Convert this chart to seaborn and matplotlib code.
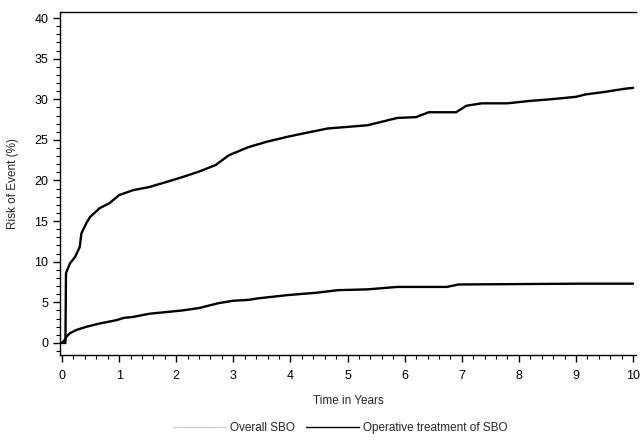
import matplotlib.pyplot as plt
import matplotlib.ticker as mticker
from matplotlib.lines import Line2D
import pandas as pd
import seaborn as sns

# cumulative risk curves
overall_years = [0.0, 0.06, 0.07, 0.14, 0.23, 0.31, 0.34, 0.43, 0.49, 0.66, 0.83, 1.0,
                 1.24, 1.53, 1.82, 2.1, 2.4, 2.69, 2.92, 3.26, 3.6, 3.96, 4.3, 4.65,
                 5.0, 5.35, 5.87, 6.2, 6.42, 6.9, 7.08, 7.35, 7.8, 8.2, 8.56, 9.0,
                 9.17, 9.5, 9.86, 10.0]
overall_risk = [0.0, 0.0, 8.6, 9.8, 10.6, 11.8, 13.5, 14.8, 15.5, 16.6, 17.2, 18.2,
                18.8, 19.2, 19.8, 20.4, 21.1, 21.9, 23.1, 24.1, 24.8, 25.4, 25.9, 26.4,
                26.6, 26.8, 27.7, 27.8, 28.4, 28.4, 29.2, 29.5, 29.5, 29.8, 30.0, 30.3,
                30.6, 30.9, 31.3, 31.4]

operative_years = [0.0, 0.05, 0.08, 0.14, 0.25, 0.43, 0.66, 0.95, 1.09, 1.24, 1.53,
                   1.96, 2.1, 2.4, 2.74, 3.0, 3.26, 3.44, 3.96, 4.48, 4.83, 5.35,
                   5.87, 6.74, 6.94, 9.08, 10.0]
operative_risk = [0.0, 0.4, 0.8, 1.2, 1.6, 2.0, 2.4, 2.8, 3.1, 3.2, 3.6,
                  3.9, 4.0, 4.3, 4.9, 5.2, 5.3, 5.5, 5.9, 6.2, 6.5, 6.6,
                  6.9, 6.9, 7.2, 7.3, 7.3]

df = pd.concat([
    pd.DataFrame({'year': overall_years, 'risk': overall_risk, 'group': 'Overall SBO'}),
    pd.DataFrame({'year': operative_years, 'risk': operative_risk, 'group': 'Operative treatment of SBO'}),
])

sns.set_style('white')
plt.rcParams['font.family'] = ['Liberation Sans', 'DejaVu Sans']

fig = plt.figure(figsize=(6.42, 4.45), dpi=100)
ax = fig.add_axes([60 / 642, 1 - 355 / 445, 576 / 642, 343 / 445])

sns.lineplot(data=df, x='year', y='risk', hue='group',
             palette={'Overall SBO': 'black', 'Operative treatment of SBO': 'black'},
             linewidth=1.7, legend=False, ax=ax, estimator=None, sort=False)

ax.set_xlim(-0.035, 10.05)
ax.set_ylim(-1.48, 40.74)
ax.xaxis.set_major_locator(mticker.MultipleLocator(1))
ax.xaxis.set_minor_locator(mticker.MultipleLocator(0.2))
ax.yaxis.set_major_locator(mticker.MultipleLocator(5))
ax.yaxis.set_minor_locator(mticker.MultipleLocator(1))
ax.tick_params(which='major', direction='out', length=5, width=1, colors='black',
               labelsize=9, bottom=True, left=True)
ax.tick_params(which='minor', direction='out', length=3, width=0.8, colors='black',
               bottom=True, left=True)
ax.tick_params(axis='x', pad=6)
ax.spines['right'].set_visible(False)
for side in ['left', 'bottom', 'top']:
    ax.spines[side].set_color('black')
    ax.spines[side].set_linewidth(1)

ax.set_xlabel('Time in Years', fontsize=8.5, labelpad=9)
ax.set_ylabel('Risk of Event (%)', fontsize=8.5, labelpad=11)

handles = [Line2D([], [], color='#b0b0b0', linewidth=0.8, linestyle=(0, (1, 0.5))),
           Line2D([], [], color='black', linewidth=1.0)]
fig.legend(handles, ['Overall SBO', 'Operative treatment of SBO'], loc='lower center',
           bbox_to_anchor=(0.53, 0.0), ncol=2, frameon=False, fontsize=8.5,
           handlelength=4.5, handletextpad=0.3, columnspacing=1.0)

fig.savefig('out.png', dpi=100)
